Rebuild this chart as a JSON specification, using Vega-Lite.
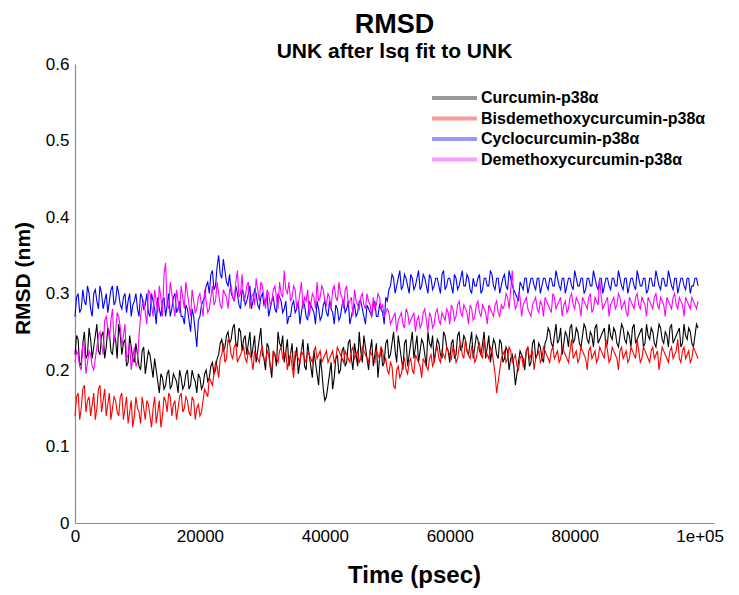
{
  "$schema": "https://vega.github.io/schema/vega-lite/v6.json",
  "width": 639,
  "height": 459,
  "autosize": "none",
  "padding": {"left": 75, "top": 64, "right": 25, "bottom": 72},
  "background": "white",
  "config": {"view": {"stroke": null}},
  "title": {
    "text": "RMSD",
    "subtitle": "UNK after lsq fit to UNK",
    "anchor": "middle",
    "font": "'Liberation Sans', sans-serif",
    "fontSize": 27,
    "fontWeight": "bold",
    "color": "black",
    "subtitleFont": "'Liberation Sans', sans-serif",
    "subtitleFontSize": 21,
    "subtitleFontWeight": "bold",
    "subtitleColor": "black",
    "subtitlePadding": 2,
    "offset": -8
  },
  "data": {
    "values": [
      {"t":0,"a":0.22,"b":0.14,"c":0.27,"d":0.21},
      {"t":500,"a":0.24,"b":0.17,"c":0.30,"d":0.22},
      {"t":1000,"a":0.21,"b":0.15,"c":0.28,"d":0.20},
      {"t":1500,"a":0.25,"b":0.18,"c":0.29,"d":0.23},
      {"t":2000,"a":0.22,"b":0.16,"c":0.31,"d":0.21},
      {"t":2500,"a":0.24,"b":0.14,"c":0.28,"d":0.22},
      {"t":3000,"a":0.23,"b":0.17,"c":0.30,"d":0.20},
      {"t":3500,"a":0.26,"b":0.15,"c":0.29,"d":0.23},
      {"t":4000,"a":0.22,"b":0.18,"c":0.31,"d":0.25},
      {"t":4500,"a":0.25,"b":0.16,"c":0.28,"d":0.22},
      {"t":5000,"a":0.23,"b":0.14,"c":0.30,"d":0.27},
      {"t":5500,"a":0.25,"b":0.17,"c":0.29,"d":0.24},
      {"t":6000,"a":0.22,"b":0.15,"c":0.31,"d":0.28},
      {"t":6500,"a":0.24,"b":0.16,"c":0.29,"d":0.25},
      {"t":7000,"a":0.26,"b":0.14,"c":0.30,"d":0.27},
      {"t":7500,"a":0.22,"b":0.17,"c":0.28,"d":0.23},
      {"t":8000,"a":0.24,"b":0.15,"c":0.30,"d":0.26},
      {"t":8500,"a":0.21,"b":0.13,"c":0.29,"d":0.22},
      {"t":9000,"a":0.23,"b":0.16,"c":0.27,"d":0.20},
      {"t":9500,"a":0.21,"b":0.14,"c":0.29,"d":0.23},
      {"t":10000,"a":0.22,"b":0.15,"c":0.28,"d":0.21},
      {"t":10500,"a":0.20,"b":0.13,"c":0.30,"d":0.27},
      {"t":11000,"a":0.23,"b":0.15,"c":0.28,"d":0.29},
      {"t":11500,"a":0.21,"b":0.16,"c":0.30,"d":0.26},
      {"t":12000,"a":0.22,"b":0.14,"c":0.27,"d":0.30},
      {"t":12500,"a":0.19,"b":0.15,"c":0.29,"d":0.27},
      {"t":13000,"a":0.20,"b":0.13,"c":0.26,"d":0.29},
      {"t":13500,"a":0.17,"b":0.16,"c":0.28,"d":0.31},
      {"t":14000,"a":0.19,"b":0.14,"c":0.29,"d":0.27},
      {"t":14500,"a":0.18,"b":0.16,"c":0.27,"d":0.34},
      {"t":15000,"a":0.20,"b":0.17,"c":0.30,"d":0.28},
      {"t":15500,"a":0.18,"b":0.14,"c":0.28,"d":0.30},
      {"t":16000,"a":0.19,"b":0.16,"c":0.30,"d":0.27},
      {"t":16500,"a":0.17,"b":0.15,"c":0.28,"d":0.29},
      {"t":17000,"a":0.19,"b":0.17,"c":0.27,"d":0.31},
      {"t":17500,"a":0.18,"b":0.15,"c":0.26,"d":0.28},
      {"t":18000,"a":0.20,"b":0.16,"c":0.28,"d":0.30},
      {"t":18500,"a":0.18,"b":0.14,"c":0.25,"d":0.27},
      {"t":19000,"a":0.19,"b":0.16,"c":0.27,"d":0.29},
      {"t":19500,"a":0.17,"b":0.15,"c":0.23,"d":0.28},
      {"t":20000,"a":0.19,"b":0.14,"c":0.27,"d":0.30},
      {"t":20500,"a":0.18,"b":0.16,"c":0.29,"d":0.27},
      {"t":21000,"a":0.20,"b":0.17,"c":0.31,"d":0.29},
      {"t":21500,"a":0.19,"b":0.19,"c":0.30,"d":0.28},
      {"t":22000,"a":0.21,"b":0.18,"c":0.33,"d":0.31},
      {"t":22500,"a":0.20,"b":0.21,"c":0.31,"d":0.29},
      {"t":23000,"a":0.22,"b":0.19,"c":0.35,"d":0.30},
      {"t":23500,"a":0.24,"b":0.22,"c":0.32,"d":0.28},
      {"t":24000,"a":0.23,"b":0.21,"c":0.33,"d":0.30},
      {"t":24500,"a":0.25,"b":0.24,"c":0.31,"d":0.28},
      {"t":25000,"a":0.24,"b":0.22,"c":0.30,"d":0.31},
      {"t":25500,"a":0.26,"b":0.23,"c":0.29,"d":0.29},
      {"t":26000,"a":0.23,"b":0.21,"c":0.30,"d":0.33},
      {"t":26500,"a":0.25,"b":0.22,"c":0.28,"d":0.30},
      {"t":27000,"a":0.24,"b":0.23,"c":0.30,"d":0.29},
      {"t":27500,"a":0.22,"b":0.21,"c":0.29,"d":0.31},
      {"t":28000,"a":0.25,"b":0.22,"c":0.31,"d":0.28},
      {"t":28500,"a":0.23,"b":0.20,"c":0.29,"d":0.30},
      {"t":29000,"a":0.21,"b":0.22,"c":0.30,"d":0.32},
      {"t":29500,"a":0.24,"b":0.21,"c":0.28,"d":0.29},
      {"t":30000,"a":0.22,"b":0.23,"c":0.30,"d":0.31},
      {"t":30500,"a":0.20,"b":0.21,"c":0.29,"d":0.28},
      {"t":31000,"a":0.23,"b":0.22,"c":0.27,"d":0.30},
      {"t":31500,"a":0.19,"b":0.20,"c":0.29,"d":0.29},
      {"t":32000,"a":0.22,"b":0.22,"c":0.28,"d":0.31},
      {"t":32500,"a":0.25,"b":0.21,"c":0.30,"d":0.28},
      {"t":33000,"a":0.23,"b":0.23,"c":0.29,"d":0.30},
      {"t":33500,"a":0.21,"b":0.22,"c":0.28,"d":0.33},
      {"t":34000,"a":0.24,"b":0.20,"c":0.26,"d":0.30},
      {"t":34500,"a":0.22,"b":0.22,"c":0.27,"d":0.29},
      {"t":35000,"a":0.20,"b":0.19,"c":0.29,"d":0.31},
      {"t":35500,"a":0.23,"b":0.22,"c":0.28,"d":0.28},
      {"t":36000,"a":0.21,"b":0.21,"c":0.26,"d":0.30},
      {"t":36500,"a":0.24,"b":0.22,"c":0.29,"d":0.28},
      {"t":37000,"a":0.20,"b":0.21,"c":0.27,"d":0.29},
      {"t":37500,"a":0.22,"b":0.22,"c":0.29,"d":0.27},
      {"t":38000,"a":0.19,"b":0.21,"c":0.28,"d":0.30},
      {"t":38500,"a":0.21,"b":0.23,"c":0.26,"d":0.28},
      {"t":39000,"a":0.18,"b":0.22,"c":0.28,"d":0.29},
      {"t":39500,"a":0.20,"b":0.21,"c":0.27,"d":0.31},
      {"t":40000,"a":0.16,"b":0.22,"c":0.29,"d":0.29},
      {"t":40500,"a":0.18,"b":0.21,"c":0.27,"d":0.30},
      {"t":41000,"a":0.21,"b":0.22,"c":0.28,"d":0.28},
      {"t":41500,"a":0.19,"b":0.21,"c":0.26,"d":0.31},
      {"t":42000,"a":0.22,"b":0.23,"c":0.28,"d":0.29},
      {"t":42500,"a":0.20,"b":0.22,"c":0.27,"d":0.30},
      {"t":43000,"a":0.23,"b":0.21,"c":0.29,"d":0.28},
      {"t":43500,"a":0.21,"b":0.22,"c":0.28,"d":0.31},
      {"t":44000,"a":0.24,"b":0.21,"c":0.26,"d":0.29},
      {"t":44500,"a":0.20,"b":0.23,"c":0.28,"d":0.27},
      {"t":45000,"a":0.22,"b":0.22,"c":0.27,"d":0.29},
      {"t":45500,"a":0.25,"b":0.21,"c":0.29,"d":0.28},
      {"t":46000,"a":0.21,"b":0.23,"c":0.28,"d":0.30},
      {"t":46500,"a":0.23,"b":0.22,"c":0.26,"d":0.28},
      {"t":47000,"a":0.20,"b":0.21,"c":0.28,"d":0.29},
      {"t":47500,"a":0.24,"b":0.22,"c":0.27,"d":0.27},
      {"t":48000,"a":0.22,"b":0.21,"c":0.29,"d":0.28},
      {"t":48500,"a":0.19,"b":0.22,"c":0.27,"d":0.30},
      {"t":49000,"a":0.23,"b":0.23,"c":0.28,"d":0.28},
      {"t":49500,"a":0.21,"b":0.21,"c":0.26,"d":0.27},
      {"t":50000,"a":0.24,"b":0.20,"c":0.29,"d":0.28},
      {"t":50500,"a":0.22,"b":0.21,"c":0.31,"d":0.26},
      {"t":51000,"a":0.25,"b":0.18,"c":0.32,"d":0.27},
      {"t":51500,"a":0.21,"b":0.20,"c":0.31,"d":0.25},
      {"t":52000,"a":0.23,"b":0.19,"c":0.33,"d":0.27},
      {"t":52500,"a":0.20,"b":0.21,"c":0.31,"d":0.26},
      {"t":53000,"a":0.24,"b":0.20,"c":0.32,"d":0.28},
      {"t":53500,"a":0.22,"b":0.21,"c":0.30,"d":0.26},
      {"t":54000,"a":0.25,"b":0.20,"c":0.32,"d":0.27},
      {"t":54500,"a":0.23,"b":0.22,"c":0.31,"d":0.25},
      {"t":55000,"a":0.21,"b":0.21,"c":0.33,"d":0.27},
      {"t":55500,"a":0.24,"b":0.19,"c":0.31,"d":0.26},
      {"t":56000,"a":0.22,"b":0.21,"c":0.32,"d":0.28},
      {"t":56500,"a":0.25,"b":0.20,"c":0.30,"d":0.25},
      {"t":57000,"a":0.23,"b":0.22,"c":0.32,"d":0.27},
      {"t":57500,"a":0.21,"b":0.21,"c":0.31,"d":0.26},
      {"t":58000,"a":0.24,"b":0.23,"c":0.32,"d":0.28},
      {"t":58500,"a":0.22,"b":0.21,"c":0.30,"d":0.26},
      {"t":59000,"a":0.25,"b":0.22,"c":0.33,"d":0.27},
      {"t":59500,"a":0.23,"b":0.23,"c":0.31,"d":0.28},
      {"t":60000,"a":0.21,"b":0.22,"c":0.32,"d":0.26},
      {"t":60500,"a":0.24,"b":0.23,"c":0.30,"d":0.28},
      {"t":61000,"a":0.22,"b":0.21,"c":0.32,"d":0.27},
      {"t":61500,"a":0.25,"b":0.23,"c":0.31,"d":0.29},
      {"t":62000,"a":0.23,"b":0.22,"c":0.33,"d":0.27},
      {"t":62500,"a":0.24,"b":0.24,"c":0.31,"d":0.28},
      {"t":63000,"a":0.22,"b":0.22,"c":0.32,"d":0.26},
      {"t":63500,"a":0.25,"b":0.23,"c":0.30,"d":0.28},
      {"t":64000,"a":0.23,"b":0.21,"c":0.31,"d":0.27},
      {"t":64500,"a":0.24,"b":0.23,"c":0.32,"d":0.29},
      {"t":65000,"a":0.22,"b":0.22,"c":0.30,"d":0.27},
      {"t":65500,"a":0.25,"b":0.24,"c":0.32,"d":0.28},
      {"t":66000,"a":0.23,"b":0.22,"c":0.31,"d":0.26},
      {"t":66500,"a":0.21,"b":0.23,"c":0.33,"d":0.28},
      {"t":67000,"a":0.24,"b":0.21,"c":0.31,"d":0.27},
      {"t":67500,"a":0.22,"b":0.17,"c":0.32,"d":0.29},
      {"t":68000,"a":0.24,"b":0.20,"c":0.30,"d":0.27},
      {"t":68500,"a":0.21,"b":0.22,"c":0.32,"d":0.28},
      {"t":69000,"a":0.23,"b":0.21,"c":0.31,"d":0.30},
      {"t":69500,"a":0.20,"b":0.23,"c":0.33,"d":0.28},
      {"t":70000,"a":0.22,"b":0.21,"c":0.31,"d":0.33},
      {"t":70500,"a":0.18,"b":0.22,"c":0.30,"d":0.28},
      {"t":71000,"a":0.21,"b":0.20,"c":0.29,"d":0.30},
      {"t":71500,"a":0.22,"b":0.22,"c":0.31,"d":0.27},
      {"t":72000,"a":0.20,"b":0.21,"c":0.32,"d":0.29},
      {"t":72500,"a":0.23,"b":0.23,"c":0.30,"d":0.28},
      {"t":73000,"a":0.21,"b":0.22,"c":0.32,"d":0.27},
      {"t":73500,"a":0.24,"b":0.20,"c":0.31,"d":0.29},
      {"t":74000,"a":0.22,"b":0.22,"c":0.32,"d":0.28},
      {"t":74500,"a":0.23,"b":0.21,"c":0.30,"d":0.29},
      {"t":75000,"a":0.21,"b":0.23,"c":0.32,"d":0.27},
      {"t":75500,"a":0.24,"b":0.22,"c":0.31,"d":0.29},
      {"t":76000,"a":0.25,"b":0.21,"c":0.32,"d":0.28},
      {"t":76500,"a":0.23,"b":0.23,"c":0.31,"d":0.30},
      {"t":77000,"a":0.26,"b":0.22,"c":0.33,"d":0.28},
      {"t":77500,"a":0.24,"b":0.21,"c":0.31,"d":0.29},
      {"t":78000,"a":0.22,"b":0.23,"c":0.32,"d":0.27},
      {"t":78500,"a":0.25,"b":0.22,"c":0.30,"d":0.29},
      {"t":79000,"a":0.23,"b":0.21,"c":0.32,"d":0.28},
      {"t":79500,"a":0.26,"b":0.24,"c":0.31,"d":0.30},
      {"t":80000,"a":0.24,"b":0.22,"c":0.33,"d":0.28},
      {"t":80500,"a":0.25,"b":0.21,"c":0.31,"d":0.29},
      {"t":81000,"a":0.23,"b":0.23,"c":0.32,"d":0.27},
      {"t":81500,"a":0.26,"b":0.22,"c":0.30,"d":0.29},
      {"t":82000,"a":0.24,"b":0.20,"c":0.32,"d":0.28},
      {"t":82500,"a":0.25,"b":0.23,"c":0.31,"d":0.30},
      {"t":83000,"a":0.23,"b":0.22,"c":0.33,"d":0.28},
      {"t":83500,"a":0.26,"b":0.21,"c":0.31,"d":0.29},
      {"t":84000,"a":0.24,"b":0.23,"c":0.32,"d":0.32},
      {"t":84500,"a":0.25,"b":0.22,"c":0.30,"d":0.28},
      {"t":85000,"a":0.23,"b":0.24,"c":0.32,"d":0.29},
      {"t":85500,"a":0.26,"b":0.21,"c":0.31,"d":0.27},
      {"t":86000,"a":0.24,"b":0.23,"c":0.32,"d":0.29},
      {"t":86500,"a":0.25,"b":0.22,"c":0.31,"d":0.28},
      {"t":87000,"a":0.23,"b":0.20,"c":0.33,"d":0.30},
      {"t":87500,"a":0.26,"b":0.23,"c":0.31,"d":0.28},
      {"t":88000,"a":0.24,"b":0.22,"c":0.32,"d":0.29},
      {"t":88500,"a":0.25,"b":0.21,"c":0.30,"d":0.27},
      {"t":89000,"a":0.23,"b":0.23,"c":0.32,"d":0.29},
      {"t":89500,"a":0.26,"b":0.22,"c":0.31,"d":0.28},
      {"t":90000,"a":0.24,"b":0.24,"c":0.33,"d":0.30},
      {"t":90500,"a":0.25,"b":0.21,"c":0.31,"d":0.28},
      {"t":91000,"a":0.23,"b":0.23,"c":0.32,"d":0.29},
      {"t":91500,"a":0.26,"b":0.22,"c":0.30,"d":0.27},
      {"t":92000,"a":0.24,"b":0.21,"c":0.32,"d":0.29},
      {"t":92500,"a":0.25,"b":0.23,"c":0.31,"d":0.28},
      {"t":93000,"a":0.23,"b":0.22,"c":0.33,"d":0.30},
      {"t":93500,"a":0.26,"b":0.20,"c":0.31,"d":0.28},
      {"t":94000,"a":0.24,"b":0.23,"c":0.32,"d":0.29},
      {"t":94500,"a":0.25,"b":0.22,"c":0.31,"d":0.27},
      {"t":95000,"a":0.23,"b":0.21,"c":0.33,"d":0.29},
      {"t":95500,"a":0.26,"b":0.23,"c":0.31,"d":0.28},
      {"t":96000,"a":0.24,"b":0.22,"c":0.32,"d":0.30},
      {"t":96500,"a":0.25,"b":0.24,"c":0.30,"d":0.28},
      {"t":97000,"a":0.23,"b":0.21,"c":0.32,"d":0.29},
      {"t":97500,"a":0.26,"b":0.23,"c":0.31,"d":0.27},
      {"t":98000,"a":0.24,"b":0.22,"c":0.32,"d":0.29},
      {"t":98500,"a":0.25,"b":0.21,"c":0.30,"d":0.28},
      {"t":99000,"a":0.23,"b":0.23,"c":0.31,"d":0.29},
      {"t":99500,"a":0.26,"b":0.22,"c":0.32,"d":0.28},
      {"t":250,"a":0.245,"b":0.165,"c":0.295,"d":0.225},
      {"t":750,"a":0.205,"b":0.135,"c":0.275,"d":0.205},
      {"t":1250,"a":0.235,"b":0.175,"c":0.305,"d":0.235},
      {"t":1750,"a":0.215,"b":0.145,"c":0.285,"d":0.195},
      {"t":2250,"a":0.255,"b":0.165,"c":0.300,"d":0.225},
      {"t":2750,"a":0.215,"b":0.155,"c":0.270,"d":0.205},
      {"t":3250,"a":0.245,"b":0.135,"c":0.305,"d":0.215},
      {"t":3750,"a":0.225,"b":0.175,"c":0.280,"d":0.245},
      {"t":4250,"a":0.245,"b":0.145,"c":0.300,"d":0.235},
      {"t":4750,"a":0.215,"b":0.175,"c":0.290,"d":0.265},
      {"t":5250,"a":0.255,"b":0.155,"c":0.275,"d":0.255},
      {"t":5750,"a":0.225,"b":0.135,"c":0.305,"d":0.265},
      {"t":6250,"a":0.245,"b":0.165,"c":0.285,"d":0.235},
      {"t":6750,"a":0.215,"b":0.145,"c":0.310,"d":0.275},
      {"t":7250,"a":0.245,"b":0.165,"c":0.285,"d":0.255},
      {"t":7750,"a":0.235,"b":0.135,"c":0.295,"d":0.245},
      {"t":8250,"a":0.205,"b":0.165,"c":0.275,"d":0.215},
      {"t":8750,"a":0.245,"b":0.145,"c":0.300,"d":0.235},
      {"t":9250,"a":0.215,"b":0.125,"c":0.285,"d":0.215},
      {"t":9750,"a":0.235,"b":0.165,"c":0.300,"d":0.205},
      {"t":10250,"a":0.205,"b":0.145,"c":0.270,"d":0.245},
      {"t":10750,"a":0.225,"b":0.165,"c":0.295,"d":0.285},
      {"t":11250,"a":0.195,"b":0.135,"c":0.285,"d":0.275},
      {"t":11750,"a":0.225,"b":0.155,"c":0.275,"d":0.305},
      {"t":12250,"a":0.205,"b":0.125,"c":0.300,"d":0.285},
      {"t":12750,"a":0.215,"b":0.165,"c":0.280,"d":0.305},
      {"t":13250,"a":0.185,"b":0.145,"c":0.295,"d":0.275},
      {"t":13750,"a":0.195,"b":0.125,"c":0.270,"d":0.295},
      {"t":14250,"a":0.175,"b":0.165,"c":0.295,"d":0.325},
      {"t":14750,"a":0.195,"b":0.145,"c":0.285,"d":0.285},
      {"t":15250,"a":0.175,"b":0.165,"c":0.270,"d":0.315},
      {"t":15750,"a":0.195,"b":0.155,"c":0.295,"d":0.285},
      {"t":16250,"a":0.185,"b":0.135,"c":0.275,"d":0.305},
      {"t":16750,"a":0.200,"b":0.165,"c":0.290,"d":0.275},
      {"t":17250,"a":0.175,"b":0.145,"c":0.270,"d":0.295},
      {"t":17750,"a":0.195,"b":0.165,"c":0.285,"d":0.315},
      {"t":18250,"a":0.175,"b":0.145,"c":0.265,"d":0.285},
      {"t":18750,"a":0.200,"b":0.165,"c":0.280,"d":0.305},
      {"t":19250,"a":0.185,"b":0.135,"c":0.250,"d":0.275},
      {"t":19750,"a":0.195,"b":0.155,"c":0.265,"d":0.295},
      {"t":20250,"a":0.175,"b":0.145,"c":0.285,"d":0.285},
      {"t":20750,"a":0.195,"b":0.175,"c":0.295,"d":0.305},
      {"t":21250,"a":0.185,"b":0.165,"c":0.315,"d":0.275},
      {"t":21750,"a":0.205,"b":0.185,"c":0.325,"d":0.295},
      {"t":22250,"a":0.195,"b":0.195,"c":0.305,"d":0.285},
      {"t":22750,"a":0.215,"b":0.205,"c":0.335,"d":0.315},
      {"t":23250,"a":0.235,"b":0.215,"c":0.325,"d":0.285},
      {"t":23750,"a":0.225,"b":0.235,"c":0.345,"d":0.305},
      {"t":24250,"a":0.245,"b":0.215,"c":0.315,"d":0.295},
      {"t":24750,"a":0.235,"b":0.235,"c":0.325,"d":0.305},
      {"t":25250,"a":0.255,"b":0.215,"c":0.295,"d":0.295},
      {"t":25750,"a":0.235,"b":0.235,"c":0.310,"d":0.315},
      {"t":26250,"a":0.255,"b":0.215,"c":0.285,"d":0.295},
      {"t":26750,"a":0.225,"b":0.225,"c":0.305,"d":0.325},
      {"t":27250,"a":0.245,"b":0.215,"c":0.285,"d":0.295},
      {"t":27750,"a":0.235,"b":0.225,"c":0.300,"d":0.315},
      {"t":28250,"a":0.215,"b":0.215,"c":0.280,"d":0.295},
      {"t":28750,"a":0.245,"b":0.225,"c":0.305,"d":0.285},
      {"t":29250,"a":0.225,"b":0.215,"c":0.285,"d":0.305},
      {"t":29750,"a":0.255,"b":0.225,"c":0.295,"d":0.315},
      {"t":30250,"a":0.215,"b":0.215,"c":0.285,"d":0.295},
      {"t":30750,"a":0.235,"b":0.225,"c":0.300,"d":0.305},
      {"t":31250,"a":0.205,"b":0.205,"c":0.280,"d":0.285},
      {"t":31750,"a":0.225,"b":0.225,"c":0.295,"d":0.305},
      {"t":32250,"a":0.205,"b":0.215,"c":0.275,"d":0.295},
      {"t":32750,"a":0.235,"b":0.225,"c":0.295,"d":0.315},
      {"t":33250,"a":0.245,"b":0.215,"c":0.275,"d":0.295},
      {"t":33750,"a":0.225,"b":0.225,"c":0.290,"d":0.305},
      {"t":34250,"a":0.205,"b":0.215,"c":0.270,"d":0.315},
      {"t":34750,"a":0.235,"b":0.205,"c":0.285,"d":0.295},
      {"t":35250,"a":0.215,"b":0.225,"c":0.275,"d":0.305},
      {"t":35750,"a":0.195,"b":0.215,"c":0.290,"d":0.285},
      {"t":36250,"a":0.225,"b":0.225,"c":0.275,"d":0.315},
      {"t":36750,"a":0.205,"b":0.215,"c":0.285,"d":0.295},
      {"t":37250,"a":0.235,"b":0.225,"c":0.265,"d":0.305},
      {"t":37750,"a":0.205,"b":0.215,"c":0.285,"d":0.285},
      {"t":38250,"a":0.225,"b":0.225,"c":0.275,"d":0.295},
      {"t":38750,"a":0.195,"b":0.215,"c":0.290,"d":0.315},
      {"t":39250,"a":0.215,"b":0.225,"c":0.265,"d":0.295},
      {"t":39750,"a":0.175,"b":0.215,"c":0.285,"d":0.305},
      {"t":40250,"a":0.165,"b":0.225,"c":0.275,"d":0.285},
      {"t":40750,"a":0.195,"b":0.215,"c":0.290,"d":0.295},
      {"t":41250,"a":0.175,"b":0.225,"c":0.275,"d":0.305},
      {"t":41750,"a":0.215,"b":0.215,"c":0.285,"d":0.295},
      {"t":42250,"a":0.195,"b":0.225,"c":0.265,"d":0.315},
      {"t":42750,"a":0.225,"b":0.215,"c":0.285,"d":0.295},
      {"t":43250,"a":0.205,"b":0.225,"c":0.275,"d":0.305},
      {"t":43750,"a":0.235,"b":0.215,"c":0.290,"d":0.285},
      {"t":44250,"a":0.215,"b":0.225,"c":0.270,"d":0.295},
      {"t":44750,"a":0.235,"b":0.215,"c":0.285,"d":0.305},
      {"t":45250,"a":0.205,"b":0.225,"c":0.275,"d":0.285},
      {"t":45750,"a":0.225,"b":0.215,"c":0.290,"d":0.295},
      {"t":46250,"a":0.245,"b":0.225,"c":0.270,"d":0.285},
      {"t":46750,"a":0.215,"b":0.215,"c":0.285,"d":0.300},
      {"t":47250,"a":0.225,"b":0.225,"c":0.275,"d":0.285},
      {"t":47750,"a":0.205,"b":0.215,"c":0.285,"d":0.295},
      {"t":48250,"a":0.235,"b":0.225,"c":0.270,"d":0.285},
      {"t":48750,"a":0.215,"b":0.215,"c":0.285,"d":0.295},
      {"t":49250,"a":0.205,"b":0.225,"c":0.275,"d":0.285},
      {"t":49750,"a":0.235,"b":0.215,"c":0.295,"d":0.275},
      {"t":50250,"a":0.215,"b":0.195,"c":0.305,"d":0.275},
      {"t":50750,"a":0.235,"b":0.205,"c":0.325,"d":0.265},
      {"t":51250,"a":0.225,"b":0.175,"c":0.300,"d":0.275},
      {"t":51750,"a":0.245,"b":0.205,"c":0.320,"d":0.265},
      {"t":52250,"a":0.215,"b":0.195,"c":0.305,"d":0.275},
      {"t":52750,"a":0.235,"b":0.215,"c":0.325,"d":0.255},
      {"t":53250,"a":0.205,"b":0.195,"c":0.310,"d":0.275},
      {"t":53750,"a":0.235,"b":0.215,"c":0.325,"d":0.265},
      {"t":54250,"a":0.215,"b":0.195,"c":0.305,"d":0.275},
      {"t":54750,"a":0.245,"b":0.215,"c":0.320,"d":0.265},
      {"t":55250,"a":0.225,"b":0.205,"c":0.305,"d":0.255},
      {"t":55750,"a":0.235,"b":0.215,"c":0.325,"d":0.275},
      {"t":56250,"a":0.205,"b":0.205,"c":0.310,"d":0.265},
      {"t":56750,"a":0.235,"b":0.215,"c":0.325,"d":0.275},
      {"t":57250,"a":0.245,"b":0.205,"c":0.305,"d":0.255},
      {"t":57750,"a":0.225,"b":0.225,"c":0.320,"d":0.275},
      {"t":58250,"a":0.235,"b":0.215,"c":0.310,"d":0.265},
      {"t":58750,"a":0.215,"b":0.225,"c":0.325,"d":0.275},
      {"t":59250,"a":0.245,"b":0.215,"c":0.305,"d":0.265},
      {"t":59750,"a":0.225,"b":0.225,"c":0.320,"d":0.275},
      {"t":60250,"a":0.235,"b":0.215,"c":0.310,"d":0.285},
      {"t":60750,"a":0.215,"b":0.225,"c":0.325,"d":0.265},
      {"t":61250,"a":0.245,"b":0.215,"c":0.305,"d":0.285},
      {"t":61750,"a":0.225,"b":0.235,"c":0.320,"d":0.275},
      {"t":62250,"a":0.245,"b":0.215,"c":0.310,"d":0.285},
      {"t":62750,"a":0.225,"b":0.225,"c":0.325,"d":0.275},
      {"t":63250,"a":0.235,"b":0.215,"c":0.305,"d":0.285},
      {"t":63750,"a":0.215,"b":0.225,"c":0.320,"d":0.265},
      {"t":64250,"a":0.245,"b":0.215,"c":0.310,"d":0.285},
      {"t":64750,"a":0.225,"b":0.235,"c":0.325,"d":0.275},
      {"t":65250,"a":0.235,"b":0.215,"c":0.305,"d":0.285},
      {"t":65750,"a":0.215,"b":0.225,"c":0.320,"d":0.275},
      {"t":66250,"a":0.245,"b":0.215,"c":0.310,"d":0.285},
      {"t":66750,"a":0.225,"b":0.225,"c":0.325,"d":0.275},
      {"t":67250,"a":0.235,"b":0.195,"c":0.305,"d":0.285},
      {"t":67750,"a":0.215,"b":0.185,"c":0.320,"d":0.275},
      {"t":68250,"a":0.235,"b":0.215,"c":0.310,"d":0.285},
      {"t":68750,"a":0.215,"b":0.225,"c":0.325,"d":0.285},
      {"t":69250,"a":0.225,"b":0.215,"c":0.305,"d":0.295},
      {"t":69750,"a":0.215,"b":0.225,"c":0.320,"d":0.305},
      {"t":70250,"a":0.205,"b":0.215,"c":0.305,"d":0.295},
      {"t":70750,"a":0.195,"b":0.205,"c":0.295,"d":0.285},
      {"t":71250,"a":0.225,"b":0.215,"c":0.315,"d":0.295},
      {"t":71750,"a":0.215,"b":0.205,"c":0.305,"d":0.285},
      {"t":72250,"a":0.225,"b":0.225,"c":0.320,"d":0.295},
      {"t":72750,"a":0.205,"b":0.215,"c":0.310,"d":0.275},
      {"t":73250,"a":0.235,"b":0.225,"c":0.320,"d":0.285},
      {"t":73750,"a":0.215,"b":0.215,"c":0.305,"d":0.295},
      {"t":74250,"a":0.235,"b":0.225,"c":0.320,"d":0.275},
      {"t":74750,"a":0.215,"b":0.215,"c":0.310,"d":0.285},
      {"t":75250,"a":0.235,"b":0.225,"c":0.320,"d":0.295},
      {"t":75750,"a":0.255,"b":0.215,"c":0.305,"d":0.285},
      {"t":76250,"a":0.235,"b":0.225,"c":0.320,"d":0.275},
      {"t":76750,"a":0.245,"b":0.215,"c":0.310,"d":0.295},
      {"t":77250,"a":0.235,"b":0.225,"c":0.320,"d":0.285},
      {"t":77750,"a":0.255,"b":0.215,"c":0.305,"d":0.295},
      {"t":78250,"a":0.235,"b":0.225,"c":0.320,"d":0.285},
      {"t":78750,"a":0.245,"b":0.215,"c":0.310,"d":0.275},
      {"t":79250,"a":0.255,"b":0.225,"c":0.320,"d":0.295},
      {"t":79750,"a":0.235,"b":0.215,"c":0.305,"d":0.285},
      {"t":80250,"a":0.255,"b":0.225,"c":0.320,"d":0.295},
      {"t":80750,"a":0.235,"b":0.215,"c":0.310,"d":0.285},
      {"t":81250,"a":0.245,"b":0.225,"c":0.320,"d":0.295},
      {"t":81750,"a":0.255,"b":0.215,"c":0.305,"d":0.285},
      {"t":82250,"a":0.235,"b":0.225,"c":0.320,"d":0.295},
      {"t":82750,"a":0.245,"b":0.215,"c":0.310,"d":0.275},
      {"t":83250,"a":0.255,"b":0.225,"c":0.320,"d":0.295},
      {"t":83750,"a":0.235,"b":0.215,"c":0.305,"d":0.285},
      {"t":84250,"a":0.245,"b":0.225,"c":0.320,"d":0.295},
      {"t":84750,"a":0.255,"b":0.215,"c":0.310,"d":0.285},
      {"t":85250,"a":0.235,"b":0.225,"c":0.320,"d":0.295},
      {"t":85750,"a":0.245,"b":0.215,"c":0.305,"d":0.285},
      {"t":86250,"a":0.255,"b":0.225,"c":0.320,"d":0.295},
      {"t":86750,"a":0.235,"b":0.215,"c":0.310,"d":0.285},
      {"t":87250,"a":0.245,"b":0.225,"c":0.320,"d":0.295},
      {"t":87750,"a":0.255,"b":0.215,"c":0.305,"d":0.285},
      {"t":88250,"a":0.235,"b":0.225,"c":0.320,"d":0.275},
      {"t":88750,"a":0.245,"b":0.215,"c":0.310,"d":0.295},
      {"t":89250,"a":0.255,"b":0.225,"c":0.320,"d":0.285},
      {"t":89750,"a":0.235,"b":0.215,"c":0.305,"d":0.295},
      {"t":90250,"a":0.245,"b":0.225,"c":0.320,"d":0.285},
      {"t":90750,"a":0.255,"b":0.215,"c":0.310,"d":0.295},
      {"t":91250,"a":0.235,"b":0.225,"c":0.320,"d":0.285},
      {"t":91750,"a":0.245,"b":0.215,"c":0.305,"d":0.295},
      {"t":92250,"a":0.255,"b":0.225,"c":0.320,"d":0.285},
      {"t":92750,"a":0.235,"b":0.215,"c":0.310,"d":0.295},
      {"t":93250,"a":0.245,"b":0.225,"c":0.320,"d":0.285},
      {"t":93750,"a":0.255,"b":0.215,"c":0.305,"d":0.295},
      {"t":94250,"a":0.235,"b":0.225,"c":0.320,"d":0.285},
      {"t":94750,"a":0.245,"b":0.215,"c":0.310,"d":0.295},
      {"t":95250,"a":0.255,"b":0.225,"c":0.320,"d":0.285},
      {"t":95750,"a":0.235,"b":0.215,"c":0.305,"d":0.295},
      {"t":96250,"a":0.245,"b":0.225,"c":0.320,"d":0.285},
      {"t":96750,"a":0.255,"b":0.215,"c":0.310,"d":0.295},
      {"t":97250,"a":0.235,"b":0.225,"c":0.320,"d":0.285},
      {"t":97750,"a":0.245,"b":0.215,"c":0.305,"d":0.295},
      {"t":98250,"a":0.255,"b":0.225,"c":0.320,"d":0.285},
      {"t":98750,"a":0.235,"b":0.215,"c":0.310,"d":0.295},
      {"t":99250,"a":0.245,"b":0.225,"c":0.320,"d":0.285},
      {"t":99750,"a":0.255,"b":0.215,"c":0.310,"d":0.290}
    ]
  },
  "transform": [
    {"fold": ["a", "b", "c", "d"], "as": ["series", "rmsd"]}
  ],
  "mark": {"type": "line", "strokeWidth": 1.1, "interpolate": "linear"},
  "encoding": {
    "x": {
      "field": "t",
      "type": "quantitative",
      "scale": {"domain": [0, 102300], "nice": false, "zero": false},
      "axis": {
        "values": [0, 20000, 40000, 60000, 80000, 100000],
        "labelExpr": "datum.value == 100000 ? '1e+05' : format(datum.value, 'd')",
        "grid": false,
        "ticks": false,
        "domainColor": "#8c8c8c",
        "domainWidth": 1.2,
        "labelFont": "'Liberation Sans', sans-serif",
        "labelFontSize": 17,
        "labelColor": "black",
        "labelPadding": 5,
        "labelFlush": false,
        "labelOverlap": false,
        "title": "Time (psec)",
        "titleFont": "'Liberation Sans', sans-serif",
        "titleFontSize": 24,
        "titleFontWeight": "bold",
        "titleColor": "black",
        "titleX": 339,
        "titleY": 59,
        "titleAlign": "center",
        "titleBaseline": "alphabetic"
      }
    },
    "y": {
      "field": "rmsd",
      "type": "quantitative",
      "scale": {"domain": [0, 0.6], "nice": false},
      "axis": {
        "values": [0, 0.1, 0.2, 0.3, 0.4, 0.5, 0.6],
        "format": "~g",
        "grid": false,
        "ticks": false,
        "domainColor": "#8c8c8c",
        "domainWidth": 1.2,
        "labelFont": "'Liberation Sans', sans-serif",
        "labelFontSize": 17,
        "labelColor": "black",
        "labelPadding": 6,
        "labelFlush": false,
        "labelOverlap": false,
        "title": "RMSD (nm)",
        "titleFont": "'Liberation Sans', sans-serif",
        "titleFontSize": 21,
        "titleFontWeight": "bold",
        "titleColor": "black",
        "titleX": -46,
        "titleY": 214,
        "titleAlign": "center",
        "titleBaseline": "alphabetic",
        "titleAngle": 270
      }
    },
    "color": {
      "field": "series",
      "type": "nominal",
      "scale": {
        "domain": ["a", "b", "c", "d"],
        "range": ["#000000", "#ff0000", "#0000ff", "#ff00ff"]
      },
      "legend": {
        "orient": "none",
        "legendX": 382,
        "legendY": 23,
        "title": null,
        "labelExpr": "datum.value == 'a' ? 'Curcumin-p38α' : datum.value == 'b' ? 'Bisdemethoxycurcumin-p38α' : datum.value == 'c' ? 'Cyclocurcumin-p38α' : 'Demethoxycurcumin-p38α'",
        "symbolType": "M-4,0H1",
        "symbolSize": 324,
        "symbolStrokeWidth": 4,
        "symbolOpacity": 0.4,
        "symbolFillColor": "transparent",
        "labelFont": "'Liberation Sans', sans-serif",
        "labelFontSize": 16,
        "labelFontWeight": "bold",
        "labelColor": "black",
        "labelOffset": 2,
        "labelLimit": 400,
        "rowPadding": 1.5
      }
    }
  }
}
